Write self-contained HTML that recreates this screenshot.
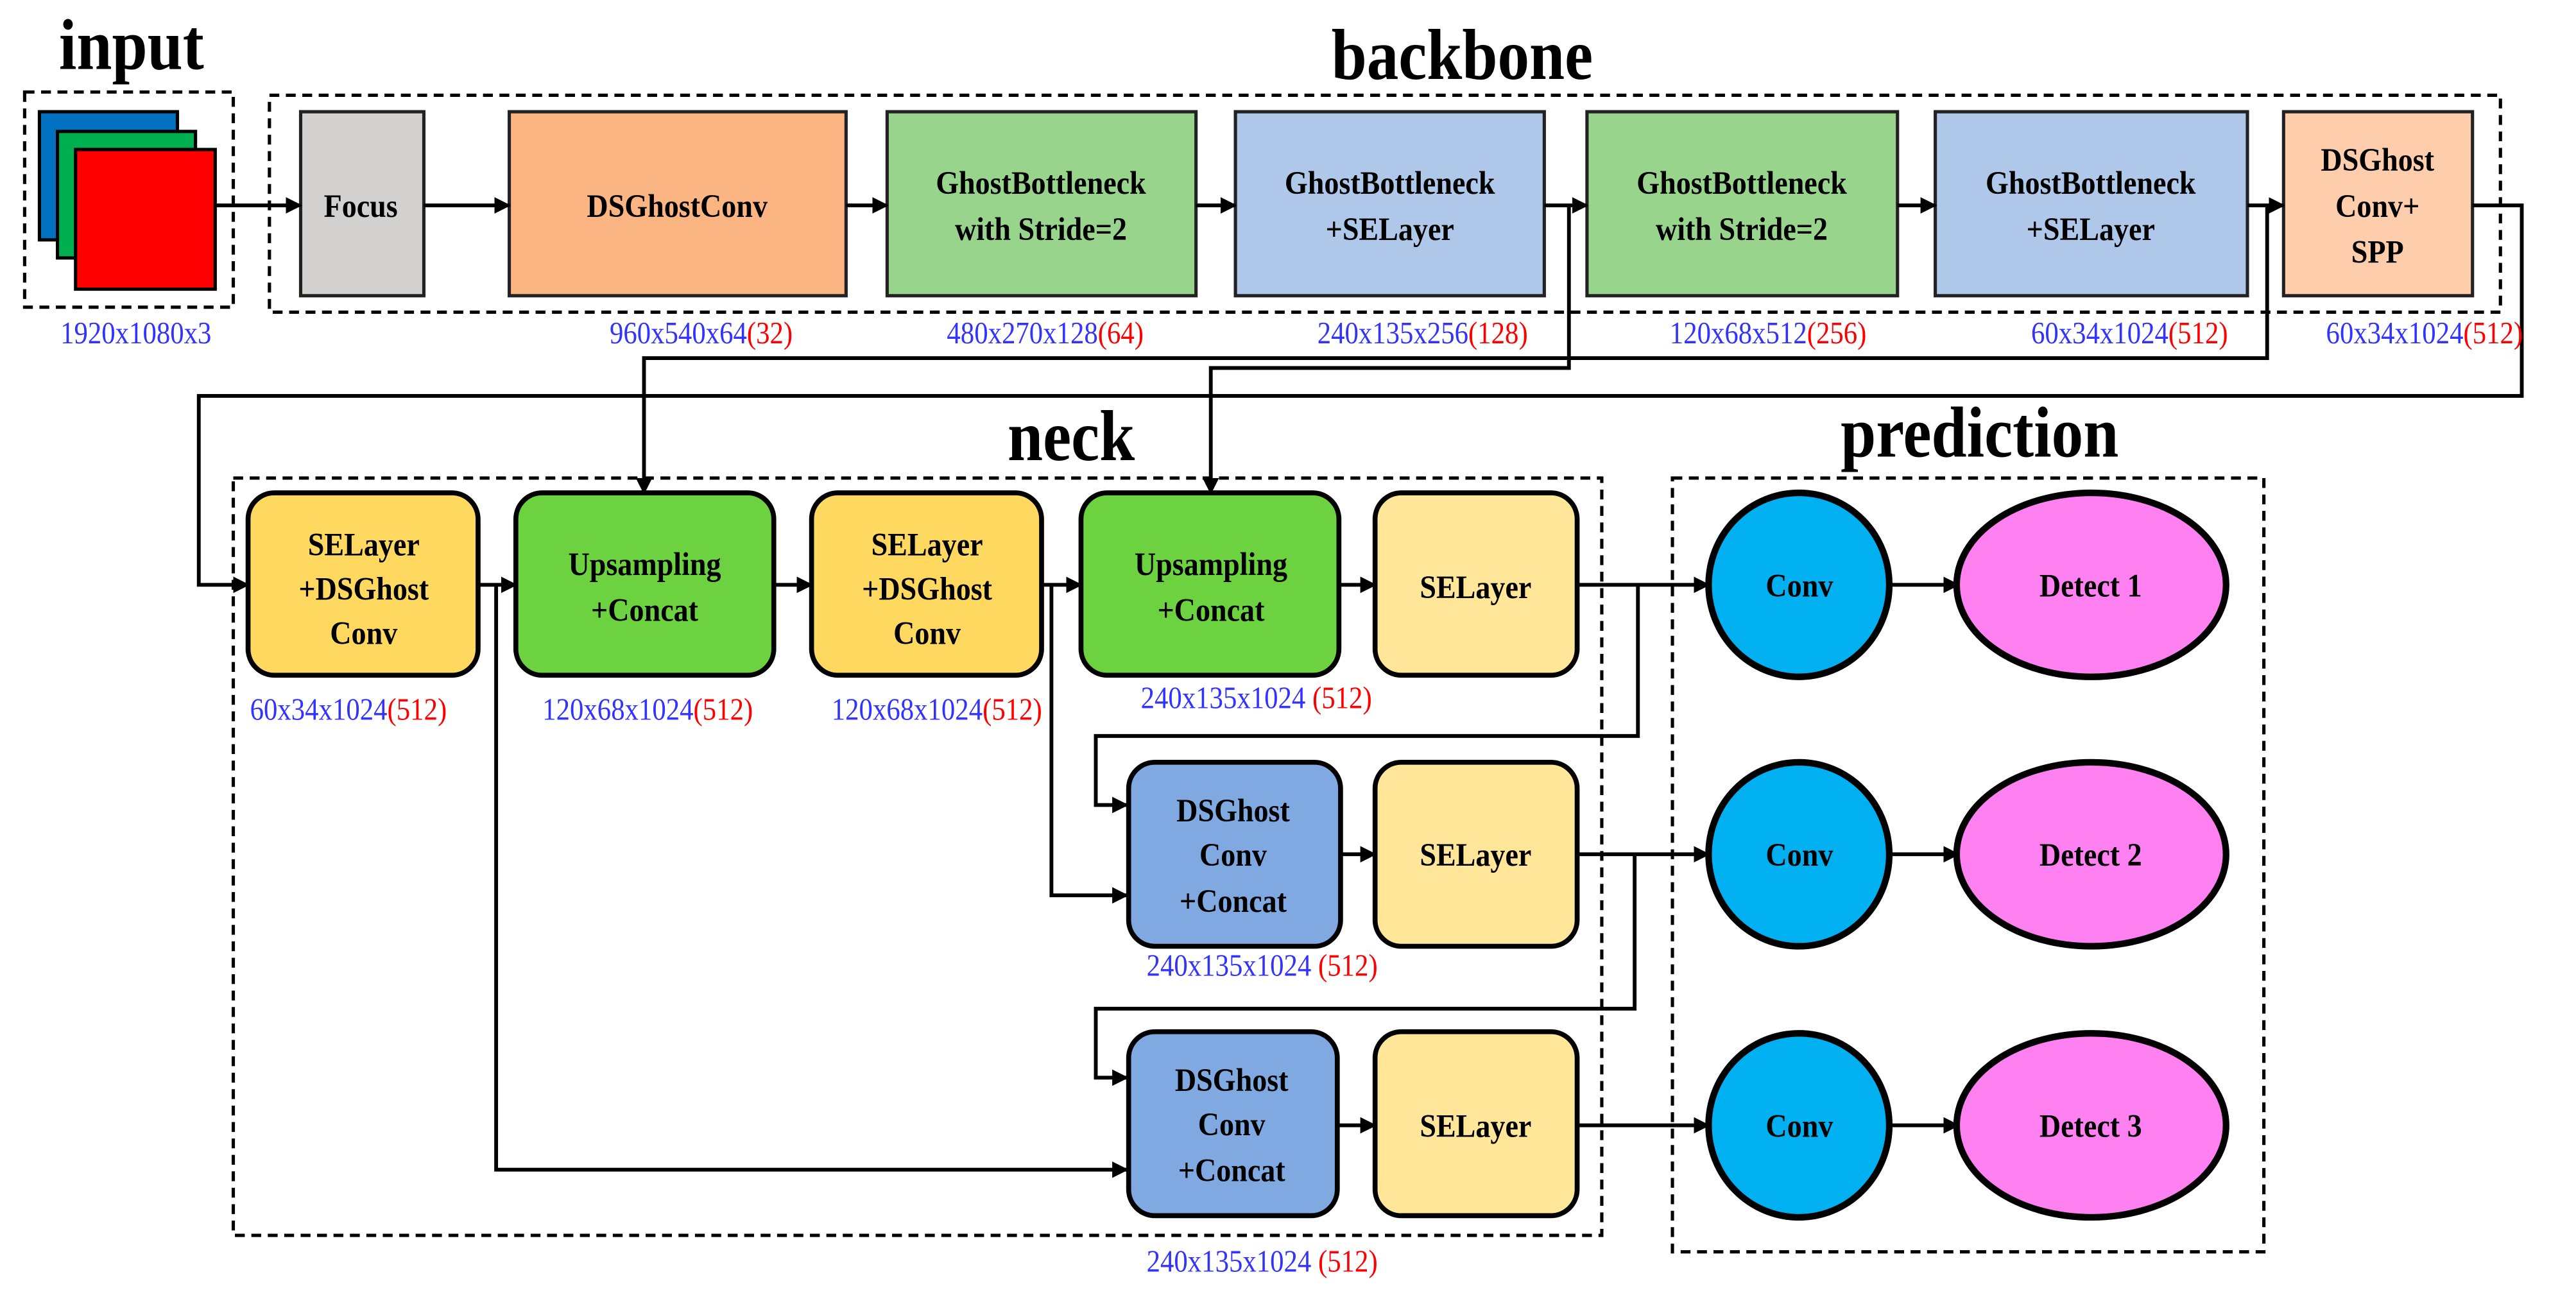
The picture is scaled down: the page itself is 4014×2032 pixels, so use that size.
<!DOCTYPE html>
<html><head><meta charset="utf-8"><style>
html,body{margin:0;padding:0;background:#fff;}
svg{display:block;}
text{font-family:"Liberation Serif",serif;}
.t{font-weight:bold;font-size:20px;fill:#000;text-anchor:middle;}
.h{font-weight:bold;font-size:44px;fill:#000;text-anchor:middle;}
.d{font-size:19px;fill:#3333ff;text-anchor:middle;}
.r{fill:#ff0000;}
.box{stroke:#222;stroke-width:2;}
.rb{stroke:#000;stroke-width:3;}
.dash{fill:none;stroke:#000;stroke-width:2;stroke-dasharray:6,4;}
.ln{fill:none;stroke:#000;stroke-width:2.3;}
</style></head><body>
<svg width="4014" height="2032" viewBox="0 0 1568 793.75" xmlns="http://www.w3.org/2000/svg">
<defs><marker id="a" markerWidth="10" markerHeight="10" refX="9" refY="5" orient="auto" markerUnits="userSpaceOnUse"><path d="M0,0 L10,5 L0,10 z" fill="#000"/></marker></defs>
<!-- titles -->
<g transform="translate(80,42) scale(0.88,1)"><text class="h" x="0" y="0">input</text></g>
<g transform="translate(890,48) scale(0.88,1)"><text class="h" x="0" y="0">backbone</text></g>
<g transform="translate(652,280) scale(0.88,1)"><text class="h" x="0" y="0">neck</text></g>
<g transform="translate(1205,278) scale(0.88,1)"><text class="h" x="0" y="0">prediction</text></g>
<!-- input -->
<rect class="dash" x="15" y="56" width="127" height="131"/>
<rect x="24" y="68" width="84" height="78" fill="#0070c0" stroke="#000" stroke-width="2"/>
<rect x="35" y="80" width="84" height="77" fill="#00b050" stroke="#000" stroke-width="2"/>
<rect x="46" y="91" width="85" height="85" fill="#ff0000" stroke="#000" stroke-width="2"/>
<!-- backbone -->
<rect class="dash" x="164" y="58" width="1358" height="132"/>
<rect class="box" x="183" y="68" width="75" height="112" fill="#d3d0d0"/>
<rect class="box" x="310" y="68" width="205" height="112" fill="#fbb583"/>
<rect class="box" x="540" y="68" width="188" height="112" fill="#98d48c"/>
<rect class="box" x="752" y="68" width="188" height="112" fill="#afc7e8"/>
<rect class="box" x="966" y="68" width="189" height="112" fill="#98d48c"/>
<rect class="box" x="1178" y="68" width="190" height="112" fill="#afc7e8"/>
<rect class="box" x="1390" y="68" width="115" height="112" fill="#fdcdac"/>
<g class="ln" marker-end="url(#a)">
<path d="M131,125 H183"/><path d="M258,125 H310"/><path d="M515,125 H540"/><path d="M728,125 H752"/><path d="M940,125 H966"/><path d="M1155,125 H1178"/><path d="M1368,125 H1390"/>
</g>
<!-- long connectors -->
<g class="ln" marker-end="url(#a)">
<path d="M1380,125 V218 H392 V300"/>
<path d="M955,125 V224 H737 V300"/>
<path d="M1505,125 H1535 V241 H121 V356 H151"/>
</g>
<!-- neck -->
<rect class="dash" x="142" y="291" width="833" height="461"/>
<rect class="rb" x="151" y="300" width="140" height="111" rx="16" fill="#ffd95f"/>
<rect class="rb" x="314" y="300" width="157" height="111" rx="16" fill="#6dd240"/>
<rect class="rb" x="494" y="300" width="140" height="111" rx="16" fill="#ffd95f"/>
<rect class="rb" x="658" y="300" width="157" height="111" rx="16" fill="#6dd240"/>
<rect class="rb" x="837" y="300" width="123" height="111" rx="16" fill="#ffe699"/>
<rect class="rb" x="687" y="464" width="129" height="112" rx="16" fill="#7fa9e0"/>
<rect class="rb" x="837" y="464" width="123" height="112" rx="16" fill="#ffe699"/>
<rect class="rb" x="687" y="628" width="127" height="112" rx="16" fill="#7fa9e0"/>
<rect class="rb" x="837" y="628" width="123" height="112" rx="16" fill="#ffe699"/>
<g class="ln" marker-end="url(#a)">
<path d="M291,356 H314"/><path d="M471,356 H494"/><path d="M634,356 H658"/><path d="M815,356 H837"/>
<path d="M816,520 H837"/><path d="M814,685 H837"/>
<path d="M302,356 V712 H686"/>
<path d="M640,356 V545 H686"/>
<path d="M997,356 V448 H667 V490 H686"/>
<path d="M995,520 V614 H667 V656 H686"/>
<path d="M960,356 H1040"/><path d="M960,520 H1040"/><path d="M960,685 H1040"/>
<path d="M1150,356 H1192"/><path d="M1150,520 H1192"/><path d="M1150,685 H1192"/>
</g>
<!-- prediction -->
<rect class="dash" x="1018" y="291" width="360" height="471"/>
<ellipse cx="1095" cy="356" rx="55" ry="56" fill="#00b0f0" stroke="#000" stroke-width="4"/>
<ellipse cx="1095" cy="520" rx="55" ry="56" fill="#00b0f0" stroke="#000" stroke-width="4"/>
<ellipse cx="1095" cy="685" rx="55" ry="56" fill="#00b0f0" stroke="#000" stroke-width="4"/>
<ellipse cx="1273" cy="356" rx="82" ry="56" fill="#ff80f0" stroke="#000" stroke-width="4"/>
<ellipse cx="1273" cy="520" rx="82" ry="56" fill="#ff80f0" stroke="#000" stroke-width="4"/>
<ellipse cx="1273" cy="685" rx="82" ry="56" fill="#ff80f0" stroke="#000" stroke-width="4"/>
<!-- node text (condensed) -->
<g transform="scale(0.9,1)">
<text class="t" x="244" y="132">Focus</text>
<text class="t" x="458" y="132">DSGhostConv</text>
<text class="t" x="704" y="118">GhostBottleneck</text><text class="t" x="704" y="146">with Stride=2</text>
<text class="t" x="940" y="118">GhostBottleneck</text><text class="t" x="940" y="146">+SELayer</text>
<text class="t" x="1178" y="118">GhostBottleneck</text><text class="t" x="1178" y="146">with Stride=2</text>
<text class="t" x="1414" y="118">GhostBottleneck</text><text class="t" x="1414" y="146">+SELayer</text>
<text class="t" x="1608" y="104">DSGhost</text><text class="t" x="1608" y="132">Conv+</text><text class="t" x="1608" y="160">SPP</text>
<text class="t" x="246" y="338">SELayer</text><text class="t" x="246" y="365">+DSGhost</text><text class="t" x="246" y="392">Conv</text>
<text class="t" x="436" y="350">Upsampling</text><text class="t" x="436" y="378">+Concat</text>
<text class="t" x="627" y="338">SELayer</text><text class="t" x="627" y="365">+DSGhost</text><text class="t" x="627" y="392">Conv</text>
<text class="t" x="819" y="350">Upsampling</text><text class="t" x="819" y="378">+Concat</text>
<text class="t" x="998" y="364">SELayer</text>
<text class="t" x="834" y="500">DSGhost</text><text class="t" x="834" y="527">Conv</text><text class="t" x="834" y="555">+Concat</text>
<text class="t" x="998" y="527">SELayer</text>
<text class="t" x="833" y="664">DSGhost</text><text class="t" x="833" y="691">Conv</text><text class="t" x="833" y="719">+Concat</text>
<text class="t" x="998" y="692">SELayer</text>
<text class="t" x="1217" y="363">Conv</text><text class="t" x="1217" y="527">Conv</text><text class="t" x="1217" y="692">Conv</text>
<text class="t" x="1414" y="363">Detect 1</text><text class="t" x="1414" y="527">Detect 2</text><text class="t" x="1414" y="692">Detect 3</text>
</g>
<!-- dimension labels (condensed) -->
<g transform="scale(0.88,1)">
<text class="d" x="94" y="209">1920x1080x3</text>
<text class="d" x="485" y="209">960x540x64<tspan class="r">(32)</tspan></text>
<text class="d" x="723" y="209">480x270x128<tspan class="r">(64)</tspan></text>
<text class="d" x="984" y="209">240x135x256<tspan class="r">(128)</tspan></text>
<text class="d" x="1223" y="209">120x68x512<tspan class="r">(256)</tspan></text>
<text class="d" x="1473" y="209">60x34x1024<tspan class="r">(512)</tspan></text>
<text class="d" x="1677" y="209">60x34x1024<tspan class="r">(512)</tspan></text>
<text class="d" x="241" y="438">60x34x1024<tspan class="r">(512)</tspan></text>
<text class="d" x="448" y="438">120x68x1024<tspan class="r">(512)</tspan></text>
<text class="d" x="648" y="438">120x68x1024<tspan class="r">(512)</tspan></text>
<text class="d" x="869" y="431">240x135x1024 <tspan class="r">(512)</tspan></text>
<text class="d" x="873" y="594">240x135x1024 <tspan class="r">(512)</tspan></text>
<text class="d" x="873" y="774">240x135x1024 <tspan class="r">(512)</tspan></text>
</g>
</svg>
</body></html>
